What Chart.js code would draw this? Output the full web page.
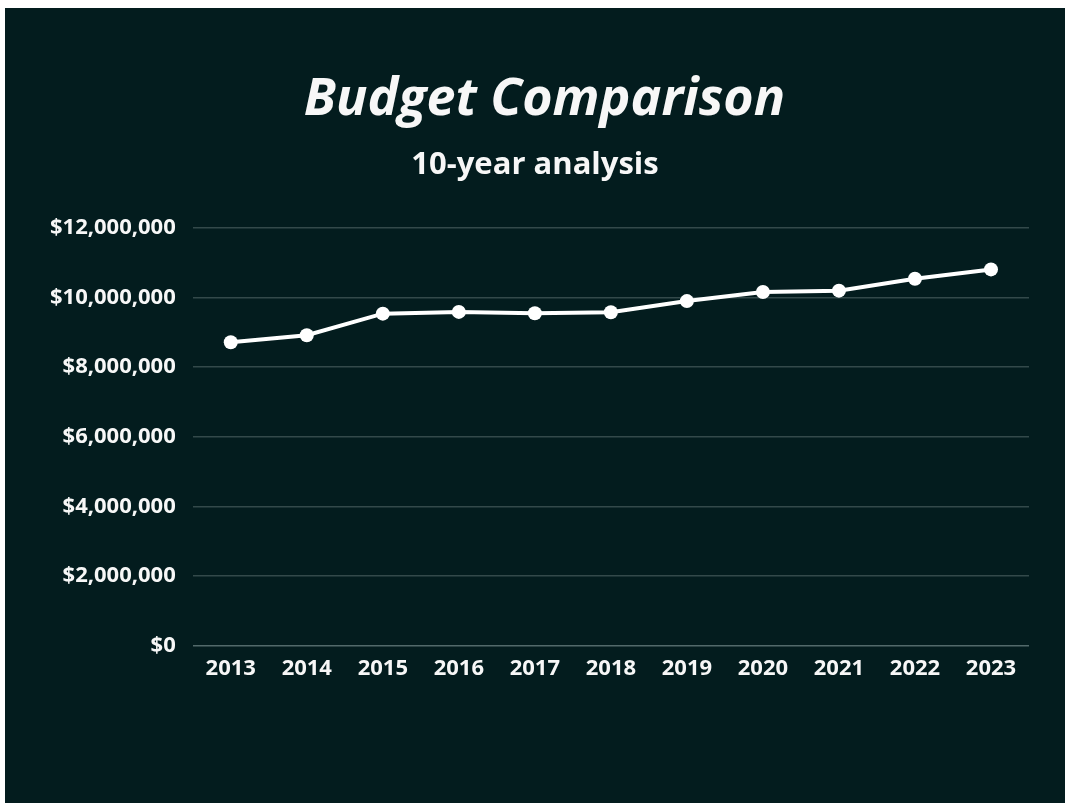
<!DOCTYPE html>
<html>
<head>
<meta charset="utf-8">
<script src="https://cdn.jsdelivr.net/npm/chart.js@4"></script>
<style>
    html, body { margin: 0; padding: 0; background: #ffffff; }
    #wrap {
        position: absolute;
        left: 5px;
        top: 8px;
        width: 1060px;
        height: 795px;
        background: #031c1e;
    }
</style>
</head>
<body>
<div id="wrap"><canvas id="budgetChart"></canvas></div>
<script>
const years = ["2013", "2014", "2015", "2016", "2017", "2018", "2019", "2020", "2021", "2022", "2023"];
const budget = [8710000, 8910000, 9530000, 9580000, 9540000, 9570000, 9890000, 10150000, 10190000, 10530000, 10800000];
const yMax = 12000000;
const yStep = 2000000;

const textColor = "#f7f7f7";
const gridColor = "#33494a";

const ctx = document.getElementById("budgetChart").getContext("2d");

new Chart(ctx, {
    type: "line",
    data: {
        labels: years,
        datasets: [{
            label: "Budget",
            data: budget,
            borderColor: "#ffffff",
            backgroundColor: "#ffffff",
            borderWidth: 4,
            pointRadius: 7,
            pointHoverRadius: 7,
            pointBorderWidth: 0,
            tension: 0
        }]
    },
    options: {
        responsive: true,
        maintainAspectRatio: false,
        animation: false,
        layout: {
            padding: { left: 28, right: 36, top: 0, bottom: 111 }
        },
        plugins: {
            legend: { display: false },
            tooltip: { enabled: false },
            title: {
                display: true,
                // leading spaces nudge the slanted title right, as in the original
                text: "  Budget Comparison",
                color: textColor,
                font: { family: "'Open Sans'", size: 52, weight: "bold", style: "italic" },
                padding: { top: 61, bottom: 5 }
            },
            subtitle: {
                display: true,
                text: " 10-year analysis",
                color: textColor,
                font: { family: "'Open Sans'", size: 31, weight: "bold" },
                padding: { top: 10, bottom: 44 }
            }
        },
        scales: {
            x: {
                offset: true,
                grid: { display: false, drawTicks: false },
                border: { display: false },
                ticks: {
                    color: textColor,
                    padding: 10,
                    font: { family: "'Open Sans'", size: 22, weight: "bold" }
                }
            },
            y: {
                min: 0,
                max: yMax,
                grid: {
                    color: ctx2 => ctx2.tick && ctx2.tick.value === 0 ? "#52696a" : gridColor,
                    lineWidth: 1.5,
                    drawTicks: false
                },
                border: { display: false },
                ticks: {
                    stepSize: yStep,
                    color: textColor,
                    padding: 17,
                    font: { family: "'Open Sans'", size: 22, weight: "bold" },
                    callback: v => "$" + v.toLocaleString("en-US")
                }
            }
        }
    }
});
</script>
</body>
</html>
